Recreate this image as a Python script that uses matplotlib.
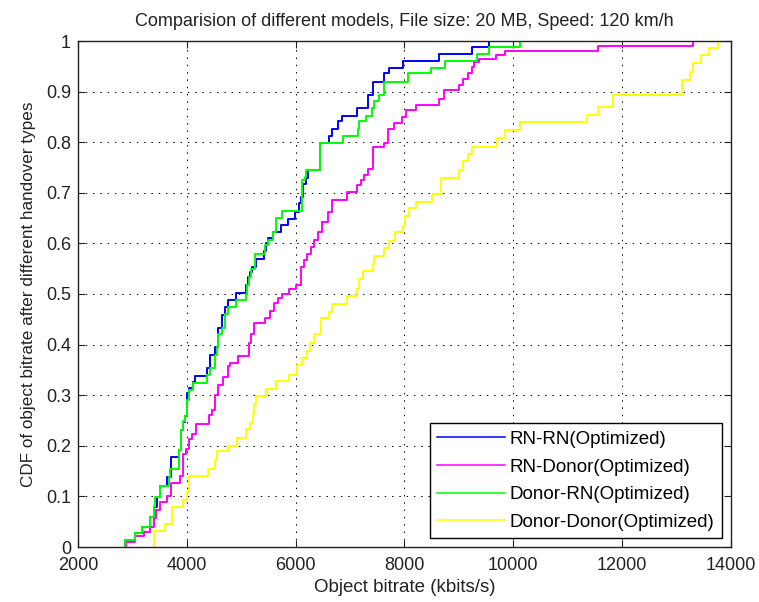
import numpy as np
import matplotlib
matplotlib.use("Agg")
import matplotlib.pyplot as plt

plt.rcParams['font.family'] = ['Liberation Sans', 'DejaVu Sans']

# step positions (kbits/s) and CDF value reached at each step
rn_rn_x = [2871, 3054, 3176, 3329, 3390, 3451, 3512, 3634, 3713, 3860,
           3890, 3926, 3969, 4012, 4048, 4121, 4152, 4378, 4427, 4519,
           4580, 4641, 4702, 4763, 4903, 5086, 5116, 5159, 5190, 5269,
           5421, 5464, 5495, 5586, 5739, 5861, 5995, 6060, 6104, 6134,
           6195, 6225, 6439, 6604, 6671, 6775, 6854, 7123, 7324, 7415,
           7629, 7708, 7977, 8636, 9245, 9550]
rn_rn_y = [0.014, 0.027, 0.040, 0.060, 0.079, 0.099, 0.120, 0.139, 0.178, 0.192,
           0.231, 0.248, 0.258, 0.304, 0.314, 0.327, 0.338, 0.353, 0.380, 0.396,
           0.432, 0.459, 0.475, 0.488, 0.502, 0.518, 0.534, 0.544, 0.554, 0.569,
           0.584, 0.600, 0.610, 0.623, 0.636, 0.649, 0.663, 0.680, 0.692, 0.717,
           0.730, 0.745, 0.798, 0.813, 0.826, 0.841, 0.852, 0.867, 0.893, 0.919,
           0.936, 0.946, 0.961, 0.974, 0.989, 1.0]

rn_donor_x = [2873, 3050, 3205, 3320, 3398, 3436, 3514, 3629, 3707, 3876,
              3923, 3977, 4039, 4093, 4170, 4402, 4463, 4517, 4579, 4672,
              4749, 4788, 4942, 5135, 5174, 5236, 5444, 5521, 5598, 5676,
              5753, 5884, 6015, 6100, 6162, 6216, 6278, 6340, 6409, 6486,
              6602, 6671, 6939, 7123, 7200, 7262, 7324, 7427, 7629, 7690,
              7812, 7952, 8025, 8208, 8635, 8726, 9001, 9080, 9171, 9245,
              9276, 9367, 9684, 9856, 11551, 13302]
rn_donor_y = [0.010, 0.022, 0.030, 0.040, 0.057, 0.073, 0.089, 0.100, 0.127, 0.140,
              0.183, 0.193, 0.213, 0.223, 0.243, 0.260, 0.270, 0.300, 0.320, 0.335,
              0.357, 0.363, 0.377, 0.403, 0.420, 0.443, 0.453, 0.467, 0.483, 0.493,
              0.500, 0.510, 0.517, 0.553, 0.567, 0.580, 0.593, 0.607, 0.623, 0.643,
              0.663, 0.686, 0.702, 0.715, 0.725, 0.735, 0.748, 0.790, 0.798, 0.827,
              0.837, 0.850, 0.863, 0.873, 0.886, 0.903, 0.913, 0.924, 0.936, 0.949,
              0.958, 0.964, 0.972, 0.981, 0.991, 1.0]

donor_rn_x = [2871, 3054, 3176, 3329, 3390, 3420, 3500, 3665, 3695, 3860,
              3890, 3926, 3969, 4012, 4048, 4121, 4378, 4427, 4519, 4549,
              4580, 4641, 4702, 4763, 4903, 5086, 5100, 5140, 5175, 5250,
              5433, 5494, 5585, 5647, 5750, 6116, 6165, 6195, 6439, 6866,
              7143, 7171, 7300, 7400, 7434, 7537, 7629, 8056, 8483, 8745,
              9337, 9550, 10131]
donor_rn_y = [0.014, 0.027, 0.040, 0.060, 0.079, 0.099, 0.120, 0.139, 0.155, 0.192,
              0.231, 0.250, 0.258, 0.290, 0.310, 0.324, 0.340, 0.353, 0.380, 0.396,
              0.420, 0.432, 0.460, 0.475, 0.488, 0.500, 0.518, 0.534, 0.550, 0.580,
              0.597, 0.607, 0.623, 0.650, 0.664, 0.725, 0.732, 0.745, 0.798, 0.813,
              0.826, 0.841, 0.852, 0.867, 0.882, 0.893, 0.919, 0.936, 0.947, 0.961,
              0.974, 0.989, 1.0]

donor_donor_x = [3389, 3603, 3726, 3938, 4011, 4048, 4395, 4518, 4560, 4750,
                 4915, 5080, 5158, 5208, 5232, 5268, 5464, 5634, 5878, 6023,
                 6124, 6216, 6256, 6330, 6470, 6610, 6659, 6939, 7122, 7159,
                 7232, 7415, 7446, 7629, 7708, 7825, 7964, 8013, 8074, 8209,
                 8502, 8667, 9001, 9075, 9166, 9245, 9692, 9856, 10131, 11349,
                 11564, 11838, 13101, 13242, 13302, 13455, 13589, 13760]
donor_donor_y = [0.032, 0.046, 0.079, 0.092, 0.108, 0.141, 0.154, 0.171, 0.190, 0.200,
                 0.216, 0.233, 0.246, 0.265, 0.282, 0.298, 0.313, 0.329, 0.340, 0.360,
                 0.373, 0.387, 0.403, 0.420, 0.452, 0.465, 0.481, 0.496, 0.510, 0.530,
                 0.545, 0.559, 0.575, 0.590, 0.605, 0.622, 0.635, 0.654, 0.669, 0.682,
                 0.697, 0.729, 0.746, 0.762, 0.776, 0.791, 0.808, 0.824, 0.839, 0.854,
                 0.869, 0.893, 0.923, 0.939, 0.956, 0.972, 0.986, 1.0]

series = [
    ("RN-RN(Optimized)", rn_rn_x, rn_rn_y, "#0000ff"),
    ("RN-Donor(Optimized)", rn_donor_x, rn_donor_y, "#ff00ff"),
    ("Donor-RN(Optimized)", donor_rn_x, donor_rn_y, "#00ff00"),
    ("Donor-Donor(Optimized)", donor_donor_x, donor_donor_y, "#ffff00"),
]

fig = plt.figure(figsize=(7.59, 6.02), dpi=100)
ax = fig.add_axes([78 / 759, 55 / 602, 653 / 759, 506 / 602])

for label, xs, ys, c in series:
    # curve starts from 0 at the first sample
    xx = np.r_[xs[0], xs]
    yy = np.r_[0.0, ys]
    ax.step(xx, yy, where='post', color=c, lw=1.4, label=label)

ax.set_xlim(2000, 14000)
ax.set_ylim(0, 1)
ax.set_xticks(np.arange(2000, 14001, 2000))
ax.set_yticks(np.arange(0, 1.01, 0.1))
ax.set_yticklabels(['0', '0.1', '0.2', '0.3', '0.4', '0.5', '0.6', '0.7', '0.8', '0.9', '1'])
ax.grid(True, color='black', linestyle=(0, (1.5, 6)), linewidth=0.7)
ax.tick_params(direction='in', length=5, width=0.8, top=True, right=True,
               labelsize=13, colors='#222222')
ax.tick_params(axis='x', pad=7)
ax.tick_params(axis='y', pad=5)
for s in ax.spines.values():
    s.set_linewidth(1.0)
    s.set_color('#222222')

ax.set_title("Comparision of different models, File size: 20 MB, Speed: 120 km/h",
             fontsize=13, pad=11, color='#222222')
ax.set_xlabel("Object bitrate (kbits/s)", fontsize=13.5, labelpad=4, color='#222222')
ax.set_ylabel("CDF of object bitrate after different handover types", fontsize=12.3,
              labelpad=7, color='#222222')

leg = ax.legend(loc='lower right', bbox_to_anchor=(0.9857, 0.0172), borderaxespad=0,
                fontsize=13.5, fancybox=False, framealpha=1, edgecolor='black',
                handlelength=3.6, handletextpad=0.25, labelspacing=0.56,
                borderpad=0.4)
leg.get_frame().set_linewidth(1.0)
for line in leg.get_lines():
    line.set_linewidth(1.1)

fig.savefig("out.png", dpi=100)
